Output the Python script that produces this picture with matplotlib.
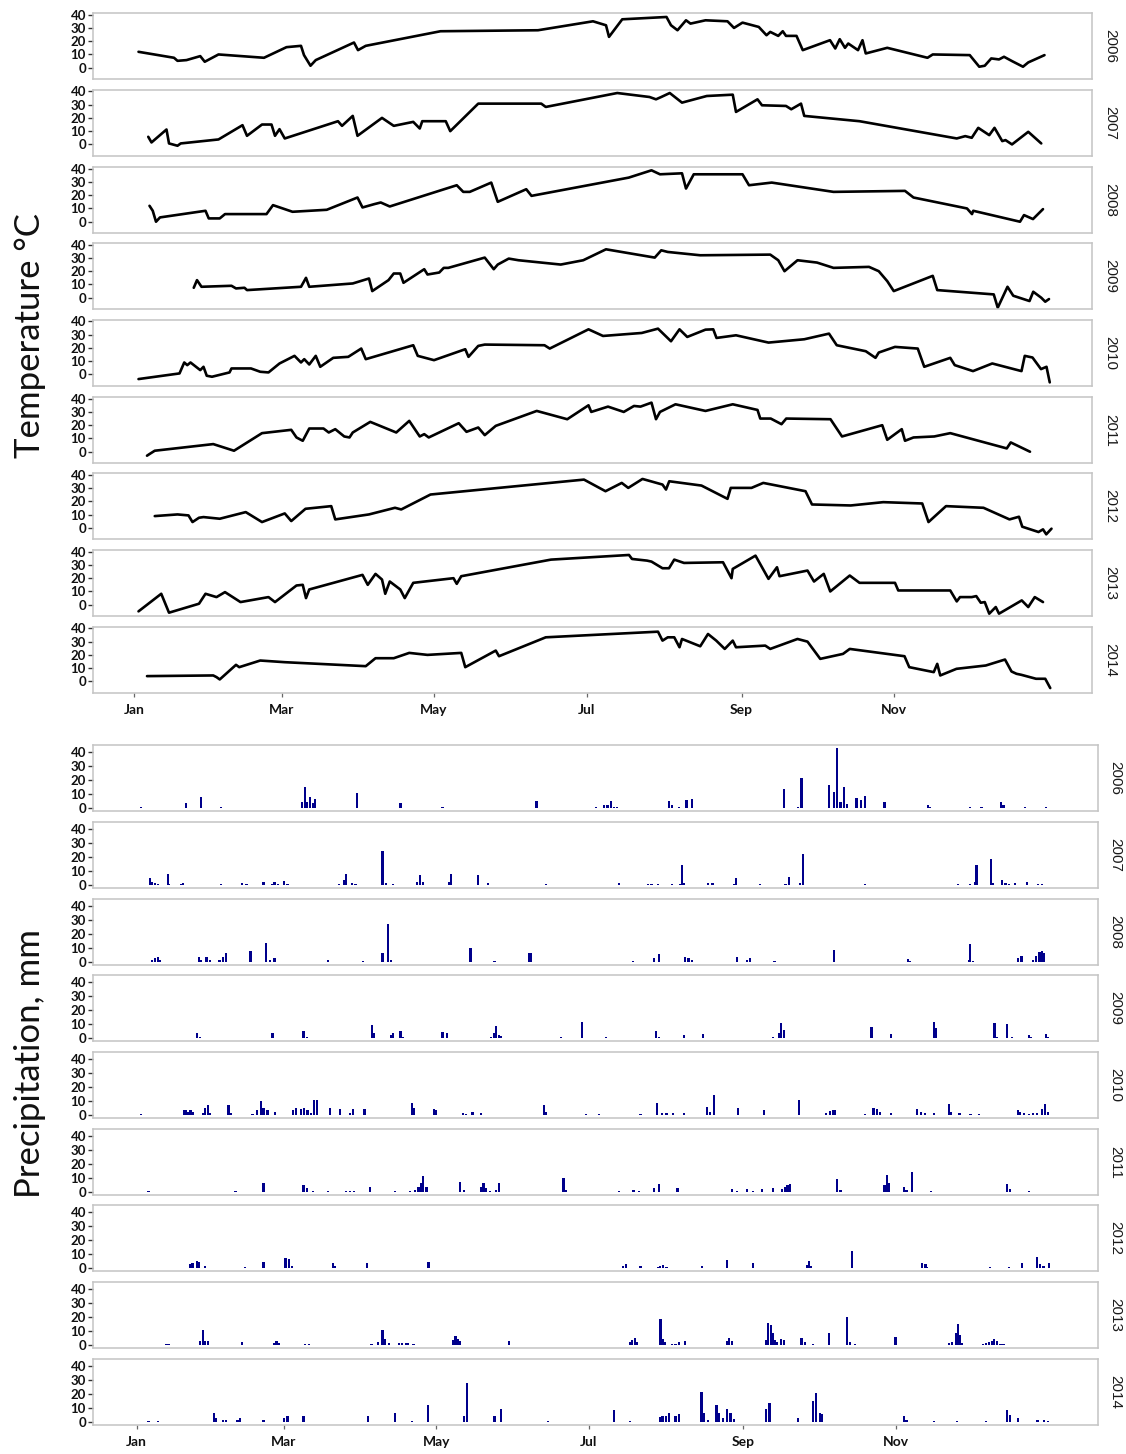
import matplotlib
matplotlib.use("Agg")
import matplotlib.pyplot as plt

# ---------------- data ----------------
years = [2006, 2007, 2008, 2009, 2010, 2011, 2012, 2013, 2014]
month_ticks = [1, 60, 121, 182, 244, 305]          # day of year
month_labels = ["Jan", "Mar", "May", "Jul", "Sep", "Nov"]
y_ticks = [0, 10, 20, 30, 40]

# temperature: (day of year, degC)
temp_2006 = [(2.8,12),(17,7.5),(18.4,5.2),(22,5.75),(27.5,8.75),(29.3,4.5),(34.8,10),(53,7.5),
 (62,15.5),(67.8,16.5),(69,9.5),(71.6,1.5),(73.7,5.75),(89,19),(90.6,13.25),(93.7,16.5),
 (123.6,27.5),(162.6,28.25),(184.6,35),(189.8,32),(191,23.25),(196.3,36.5),(214,38.25),
 (215.8,32),(218.4,28.25),(221.8,35.75),(223.6,33.25),(229.6,35.75),(238.4,35),(241,30),
 (244.4,34),(250.9,30.75),(254,24.5),(255.5,27),(258.7,24),(260.5,27.5),(261.8,24),(266,24),
 (268.5,13.25),(279.4,20.75),(281.5,14.5),(283.3,21.5),(285.4,15),(286.7,18.25),(290.6,13.25),
 (292.4,20.75),(293.7,10.75),(302.3,15),(318.4,7.5),(320.5,10),(335.3,9.5),(339.1,0.75),
 (341.3,1.5),(343.9,7),(347,6.25),(349,8.25),(352.2,5),(356.6,0.75),(358.7,4),(365.2,9.5)]
temp_2007 = [(6.7,5.75),(8,1.5),(14,11.25),(15,0.75),(18.4,-1),(19.7,0.75),(34.8,3.75),(44.4,14.5),
 (46.2,6.5),(52.2,15),(56,15),(57.4,6.5),(59.2,11.5),(61.3,4.5),(82.6,17.5),(84.2,14),(88.5,21.5),
 (90.4,6.5),(100.2,20),(104.9,14),(112.7,17),(115.3,12),(116.3,17.5),(125.7,17.5),(127.5,10),
 (138.7,30.75),(163.9,30.75),(165.7,28.25),(194.3,38.75),(207.2,35.75),(209.8,34),(211.9,35.75),
 (215.3,38.75),(220.2,31.5),(230.1,36.5),(240.5,37.5),(241.8,24.5),(250.4,34),(252.2,29.5),
 (261.8,29),(263.9,26.5),(267.8,30.75),(269.1,21.5),(291.2,17.5),(330.1,4.5),(333.5,6.25),
 (336.1,5),(338.7,12.5),(343.1,7),(345.2,12.5),(348.3,2.5),(349.6,3.25),(352.2,0),(358.7,9.5),
 (363.9,0.75)]
temp_2008 = [(7.2,12),(8.5,8.25),(9.8,0),(11.4,3.25),(29.6,8.25),(30.9,2.5),(35.3,2.5),(37.4,5.75),
 (54,5.75),(56.6,12.5),(64.4,7.5),(78.1,9),(90.4,18.25),(92.4,10.75),(97.1,13.25),(99.7,14.5),
 (103.3,11.5),(130.1,27.5),(132.7,22.5),(135.3,22.5),(143.9,29.5),(146.5,15),(157.9,24.5),
 (160,19.5),(198.9,33.25),(208,38.75),(211.4,35.75),(220.2,36.5),(221.8,25),(224.9,35.75),
 (244.4,35.75),(247,27.5),(256.1,29.5),(280.8,22.5),(309.4,23.25),(312.8,18.25),(334.2,10),
 (336.2,5.75),(336.7,8.25),(355.4,0),(357,5),(360.6,2),(364.6,9.5)]
temp_2009 = [(24.9,7.5),(26.2,13.25),(28,8.25),(40,9),(41.8,7),(45.2,7.5),(46.2,5.75),(67.8,8.25),
 (69.8,15),(71.1,8.25),(88.5,10.75),(95,14.5),(96.3,5),(102.8,13.25),(104.9,18.25),(107.5,18.25),
 (108.8,11.25),(117.1,21.5),(118.4,17.5),(123.1,19),(124.9,22.5),(126.7,22.5),(141.3,30.25),
 (144.9,21.5),(146.5,25),(150.9,29.5),(154.8,28.25),(171.7,25),(180.7,28.25),(189.8,36.5),
 (209.3,30.25),(211.9,35.75),(214.5,34.5),(227.5,32),(255.5,32.5),(258.7,28.25),(261.2,20),
 (266.4,28.25),(274.2,26.5),(280.8,22.5),(295,23.25),(298.9,20),(302.3,12.5),(304.9,5),
 (320.5,16.5),(322.3,5.75),(344.9,2.5),(346.5,-7.5),(350.4,8.25),(352.7,1.5),(359.2,-2.5),
 (360.7,4.5),(363.9,0),(365.5,-3),(367,-1)]
temp_2010 = [(2.8,-3.5),(19.2,0.75),(21.1,9),(22.3,7),(23.6,9),(27.5,3.25),(28.8,5.75),(30.1,-1),
 (32.2,-1.75),(39.2,1.5),(40,4.5),(47.8,4.5),(51.5,2),(54.8,1.5),(59.2,8.25),(65.2,14),(67.8,9),
 (69.1,11.5),(71.1,7.5),(73.7,14),(75.5,5.75),(80.7,12.5),(86.7,13.25),(91.9,19.5),(93.7,11.5),
 (112.7,22),(114.5,14),(121,10.75),(133.5,19),(134.8,13.25),(138.7,21.5),(141.3,22.5),(165.2,22),
 (167.3,19.5),(182.8,34),(188.6,29),(204.1,31.25),(210.6,34.5),(215.8,25),(219.2,34),(222.3,28.25),
 (229.6,33.75),(232.7,34),(234,27.5),(241.8,29.5),(254.8,24),(269.1,26.5),(279,30.75),(282.1,22),
 (293.7,17.5),(297.6,12.5),(298.9,16.5),(305.4,20.75),(314.5,19.5),(317.1,5.75),(327.5,12.5),
 (329.3,7),(336.6,2.5),(344.3,8.25),(356,2.5),(357.3,14),(360.4,12.75),(363.8,4),(366,5.75),
 (367.3,-6)]
temp_2011 = [(6.2,-3),(7.2,-1.75),(9.3,0.75),(32.7,5.75),(41,0.75),(52.2,14),(63.9,16.5),(66,10.75),
 (68.5,8.25),(71.1,17.5),(76.8,17.5),(78.9,14.5),(81.5,17),(85.1,11.5),(87.2,10.75),(88.5,14.5),
 (95.5,22.5),(105.9,14.5),(111.1,23.25),(115.3,11.5),(117.1,13.25),(118.9,10.75),(130.9,21.5),
 (134,15),(138.7,18.25),(141.3,12.5),(145.7,19.5),(162.1,30.75),(174.3,24.5),(182.8,35),(183.9,30),
 (190.6,34),(196.9,30),(201,34.5),(203.6,34),(208,37),(209.8,24.5),(211.4,30),(217.6,35.75),
 (229.6,30.75),(240.5,35.75),(250.4,31.5),(251.5,25),(255.7,25),(260,20.75),(261.9,25),(279.6,24.5),
 (284.2,11.5),(300.3,20),(302.3,9),(308.1,17),(309.4,8.25),(312.8,10.75),(321.1,11.5),(327.5,14),
 (350.1,2.5),(351.7,7),(359.4,0)]
temp_2012 = [(9.3,9),(18.4,10.25),(22.8,9.5),(24.4,4.5),(27,7.75),(28.8,8.25),(35.3,7),(45.7,12),
 (52.2,4.5),(61.3,11),(63.9,5.25),(69.6,14.5),(79.9,16.5),(81.5,6.5),(95,10.25),(105.4,15.25),
 (107.9,14),(119.6,25.25),(181,36.5),(189.6,27.75),(196.1,34),(198.7,30.25),(204.4,37),
 (212.4,32.75),(213.8,29),(215.1,35.25),(228,32),(238.4,22),(239.7,30.25),(248,30.25),(252.7,34),
 (269.6,27.75),(272.2,17.75),(287.7,17),(300.7,19.5),(316.3,18.5),(318.8,4.5),(325.8,16.5),
 (340.8,15.25),(351.2,6.5),(355,8.5),(356.3,1),(362.8,-3),(364.6,-1),(365.9,-4.75),(368,-0.5)]
temp_2013 = [(2.8,-5),(11.9,8.25),(15,-6),(27,0.75),(29.6,8.25),(34,5.75),(37.4,9.5),(43.6,2),
 (54.8,5.75),(57.4,2),(66,14.5),(68.5,15),(69.8,5),(71.1,11.5),(92.4,22.5),(94.5,15),(97.6,23.25),
 (100.2,19),(101.5,8.25),(103.3,17.5),(107.5,11.5),(109.3,5),(112.7,16.5),(128.8,20),(130.1,15.75),
 (131.9,21.5),(167.8,34),(199,37.5),(200.2,34.5),(206.2,33.25),(208,32.5),(212.4,27.5),(215,27.5),
 (217.1,34),(221,31.5),(236.6,32),(240,20),(240.5,27),(249.6,37),(254.8,19.5),(258.2,28.25),
 (259.2,21.5),(270.4,25.75),(273,17.5),(276.9,23.25),(279.5,10),(287.3,22),(291.2,16.5),
 (305.4,16.5),(306.7,10.75),(327.5,10.75),(330.1,2.5),(331.4,5.75),(336.1,5.75),(337.9,6.5),
 (339.7,1.5),(341.3,2),(343.1,-6.75),(345.7,-1.75),(347,-6.75),(356.1,3.25),(358.7,-1.75),
 (361.3,5.75),(364.6,2)]
temp_2014 = [(6.2,4),(32.7,4.5),(34,3.25),(35.3,1.5),(41.8,12.5),(43.1,10.75),(51.5,15.75),
 (61.3,14.5),(93.7,11.5),(97.6,17.5),(104.9,17.5),(111.1,21.5),(118.4,20),(131.9,21.5),
 (133.5,10.75),(145.7,23.25),(147,19),(165.7,33.25),(210.6,37.5),(212.4,30.75),(214.5,33.25),
 (217.1,33.25),(219.2,25.75),(220.2,32),(227.5,26.5),(230.6,35.75),(233.9,30.75),(237.3,24.5),
 (240.5,30.75),(241.8,25.75),(253.5,27),(255.5,24.5),(266.4,32),(270.4,30),(275.5,17),
 (284.6,20.75),(287.3,24.5),(309.2,19),(311.1,10.75),(320.9,7),(322.3,13.25),(323.5,4.5),
 (330,9.5),(341.7,12),(349.4,16.5),(352,7.5),(354,5.75),(355.9,5),(361.8,2),(365.5,2),(367.5,-5)]

# precipitation: (day of year, mm)
precip_2006 = [(2.6,1.2),(16.5,0.5),(17.3,0.5),(20.7,3.5),(26.9,8.2),(28.5,0.5),(29.5,0.5),(34.7,1.2),
 (52.8,0.5),(61.4,0.5),(67.3,4.7),(68.4,14.8),(69.1,4.7),(70.4,8.2),(71.7,3.5),(72.5,6.4),(89.1,11),
 (89.8,0.5),(92.5,0.5),(106.7,3.5),(123.5,1.2),(161.1,5.4),(184.9,1.2),(188.3,2.4),(189.6,2.4),
 (190.9,5.2),(192.2,1.2),(193.5,0.7),(194.8,0.5),(214.2,5.4),(215.5,2.4),(218.1,1.2),(221.2,5.9),
 (223.3,6.8),(229,0.5),(238.3,0.5),(240.1,0.5),(244,0.5),(253.1,0.5),(260.1,13.4),(266,1.2),
 (267.3,21.9),(278.2,16.5),(280.3,11.8),(281.6,43),(282.9,4.7),(284.2,15.3),(285.5,3),(289.3,7),
 (291.2,5.9),(292.7,8.7),(300.5,4.7),(317.8,2.4),(318.6,1.2),(334.7,1.2),(337.8,0.5),(339.3,1.2),
 (341.2,0.5),(342.5,0.5),(347.1,4.7),(348.2,2.4),(356.7,1.2),(365.2,1.2)]
precip_2007 = [(6.2,5.4),(7,2.4),(8.3,1.6),(9.5,1.2),(13.4,7.8),(14,0.7),(18.6,0.7),(19.4,1.6),
 (34.7,0.7),(43.2,1.6),(45,1.2),(51.8,2.4),(55.4,1.2),(56.2,2.4),(57.5,0.7),(60.1,2.8),(61.4,0.7),
 (82.1,0.7),(83.9,3.5),(84.7,8.2),(87.3,1.6),(88.6,1.2),(99.4,24.2),(100.7,1.6),(103.6,0.7),
 (113.2,2.4),(114.5,7),(115.8,2.4),(126.1,2.4),(126.9,7.8),(137.8,7),(141.7,1.6),(165,0.7),
 (194.3,1.6),(205.7,1.2),(207.2,1.2),(209.8,1.2),(215.5,0.7),(218.6,1.2),(219.4,14.6),(220.2,1.6),
 (229.8,1.6),(231.6,1.6),(240.1,1.2),(241,5.2),(250.5,0.7),(260.8,0.7),(262.1,5.9),(266.8,1.6),
 (267.8,22.4),(292.7,0.7),(330,0.7),(334.7,0.7),(336.8,2.4),(337.3,14.1),(343,18.8),(343.8,1.6),
 (347.7,3.5),(349,1.6),(350.3,1.2),(352.9,1.6),(357.6,2.4),(362,1.2),(363.7,1.2)]
precip_2008 = [(7,1.6),(8.3,2.8),(9.5,4),(10.3,1.6),(13.4,0.5),(25.9,3.5),(26.9,1.6),(29,3.5),
 (30.3,1.6),(34.2,1.6),(35.5,4),(36.8,6.4),(46.6,8.2),(52.8,13.4),(54.4,1.6),(56.2,2.8),(64,0.5),
 (77.7,1.6),(91.7,1.2),(92.5,0.5),(99.4,6.4),(101.5,27.5),(102.8,1.6),(130,0.5),(131.3,0.5),
 (134.7,9.9),(144.3,1.2),(158,6.4),(159,6.4),(199.9,1.2),(208.3,2.8),(210.3,5.9),(220.7,4),
 (222,2.8),(223.3,1.6),(241.4,3.5),(245.3,1.6),(246.6,2.8),(256.4,1.2),(280.3,8.7),(309.9,2.1),
 (310.7,1.2),(334.2,1.6),(334.7,12.9),(336,1.2),(354.1,2.8),(355.4,4.5),(360.1,1.6),(361.1,4.5),
 (362.6,7.5),(363.7,8.2),(364.5,6.4)]
precip_2009 = [(25.1,3.5),(26.4,1.2),(40.6,0.5),(41.9,0.5),(45.8,0.5),(55.4,3.5),(67.8,5.4),(69.1,0.7),
 (70.9,0.5),(87.3,0.5),(95.1,9.4),(95.9,3.5),(102.8,2.4),(103.6,4),(106.7,5.4),(107.5,1.2),
 (117.1,0.5),(123.5,4.7),(125.4,3.5),(140.9,0.5),(143,1.2),(144.3,4),(145,8.7),(146.1,2.4),
 (146.9,1.6),(150.3,0.5),(154.7,0.5),(171,0.7),(179.2,11.8),(189.1,0.7),(194.3,0.5),(209,5.4),
 (210.3,1.2),(220.2,2.4),(227.9,3.1),(255.7,0.7),(258.3,4),(259,10.6),(260.1,5.9),(265.2,0.5),
 (275.1,0.5),(278.9,0.5),(295.3,7.8),(298.9,0.5),(303.1,3.1),(320.4,11.8),(321.2,7),(344.5,10.6),
 (345.6,1.2),(349.7,10.1),(351.5,0.7),(358.5,2.4),(359.3,1.2),(365.3,3.1),(366,1.2)]
precip_2010 = [(2.6,0.7),(19.9,3.5),(20.7,4),(21.7,2.4),(22.5,4),(23.3,2.4),(27.7,1.6),(28.5,5.4),
 (29.5,7),(30.3,1.6),(37.8,7),(38.9,1.6),(47.4,1.2),(49.2,4),(50.8,10.1),(51.8,5.4),(53.4,3.5),
 (56.5,2.4),(63.7,3.5),(64.8,5.4),(66.8,4.7),(68.1,5.4),(69.4,3.5),(70.7,1.6),(72,10.6),(73.3,10.6),
 (78.5,5.4),(82.4,4.7),(86.3,1.6),(87.6,4.7),(92.2,4.7),(111.4,8.7),(112.2,5.4),(120,4.7),(120.7,4),
 (131.6,1.6),(132.9,1.2),(135.5,2.4),(138.9,1.6),(164,7.5),(164.8,2.4),(181,0.7),(186.2,0.7),
 (202.8,0.7),(209.3,8.7),(211.4,1.6),(213.2,1.6),(215.8,1.6),(220.2,1.6),(229.5,5.9),(230.6,2.4),
 (232.1,14.1),(241.7,5.4),(252.1,3.5),(266.3,11.1),(277.2,1.6),(278.7,3.1),(279.8,3.5),(280.6,4),
 (292.8,0.7),(296.1,5.4),(297.4,4.7),(298.7,2.4),(303.1,1.6),(313.4,4.7),(315,2.4),(316.8,1.6),
 (320.2,1.6),(326.4,8.2),(327.2,2.4),(330.5,1.6),(334.9,1.2),(338.3,0.7),(341.4,0.3),(342.7,0.3),
 (353.9,3.5),(354.9,2.4),(356.5,1.6),(358.3,1.2),(360.1,1.6),(361.7,1.6),(363.7,4.7),(364.8,7.8),
 (366,2.4)]
precip_2011 = [(5.7,1.2),(7,0.5),(9.5,0.5),(32.9,0.5),(40.6,1.2),(51.8,6.4),(64.7,0.5),(67.8,5.2),
 (69.1,2.8),(71.7,1.2),(77.7,1.2),(80.3,0.5),(82.1,0.5),(84.7,1.2),(86.5,1.2),(88.1,1.2),(94.3,4),
 (104.6,1.2),(108.8,0.5),(110.5,1.2),(112.4,1.6),(113.9,3.5),(115,6.4),(115.8,11.5),(117.1,4),
 (130.5,7.5),(132.1,1.6),(139.1,4),(139.9,6.4),(140.9,2.8),(142.5,1.2),(145,1.6),(146.1,6.4),
 (161.1,0.5),(171.9,9.9),(172.8,1.6),(182.3,0.5),(192.2,0.5),(194.3,1.2),(196.9,0.5),(200,1.6),
 (202.1,1.2),(208.3,2.8),(210.3,5.9),(217.6,2.8),(218.1,0.5),(228,0.5),(239.3,2.1),(241.4,1.2),
 (245.3,2.1),(247.9,1.2),(251.3,2.1),(252.3,0.5),(255.7,2.8),(259.5,2.1),(260.8,4),(261.6,5.2),
 (262.7,5.9),(280.3,0.5),(281.6,9.2),(282.9,1.6),(300.5,5.2),(301.6,12.2),(302.3,6.4),(308.3,4),
 (309.3,1.6),(311.4,14.6),(319.1,1.2),(328.2,0.5),(349.7,5.9),(350.7,2.1),(358.5,1.2)]
precip_2012 = [(8.3,0.5),(17.3,0.5),(22.5,2.8),(23.3,3.5),(24.3,0.5),(25.1,5.2),(25.9,4.5),(26.9,0.5),
 (28.5,1.6),(34.7,0.5),(44.5,1.2),(45.8,0.5),(51.8,4.5),(60.6,7.5),(62.1,6.4),(63.2,1.6),(68.4,0.5),
 (79.5,4),(80.3,1.6),(93.3,4),(103.6,0.5),(107,0.5),(117.9,4.5),(180.3,0.5),(188.1,0.5),(195.9,1.6),
 (196.9,2.8),(202.8,1.6),(209.8,1.2),(210.6,1.6),(211.9,2.1),(213.2,1.2),(214.5,0.5),(227.5,1.6),
 (237.3,5.9),(238.3,0.5),(247.7,3.5),(251.3,0.5),(269.4,2.1),(270.2,5.2),(271,1.6),(287.6,12.2),
 (299.5,0.5),(315.6,4),(316.9,2.8),(317.6,1.2),(324.6,0.5),(340.2,0.5),(342.7,1.2),(350.5,1.2),
 (352.3,0.5),(355.7,3.5),(361.7,8.2),(362.7,2.8),(364.2,1.6),(366.5,4)]
precip_2013 = [(2.6,0.5),(11.4,0.5),(12.9,1.2),(14,1.2),(26.4,2.8),(27.7,10.6),(28.5,2.8),(29.5,2.8),
 (34.7,0.5),(37.3,0.5),(43.2,2.1),(56.2,1.6),(57,3.3),(58,1.6),(64,0.5),(68.4,1.2),(69.9,1.2),
 (93.2,0.5),(95,1.2),(97.6,2.1),(99.4,10.6),(100.2,4.5),(102,1.6),(106.2,1.6),(107.2,1.6),
 (108.8,1.6),(109.8,1.6),(111.9,1.2),(127.9,4),(128.7,6.8),(129.5,4.5),(130.5,2.8),(139.9,0.5),
 (150.2,2.8),(168.4,0.5),(194.3,0.5),(198.7,2.1),(199.4,4),(200.5,5.2),(201.3,2.1),(210.8,18.6),
 (211.6,4.5),(212.4,2.1),(215.5,1.2),(216.8,1.2),(218.1,2.1),(220.7,2.8),(225.9,0.5),(237.5,2.8),
 (238.3,5.2),(239.3,2.8),(249.2,0.5),(253.1,3.5),(253.9,16.2),(254.9,14.6),(255.7,8.7),(256.4,4),
 (257.5,2.1),(259,4.5),(260.1,4),(267.3,5.2),(268.6,2.1),(272,1.2),(278.2,8.7),(279,0.5),
 (285.5,20),(286.8,2.1),(288.6,1.2),(304.9,5.9),(326.4,1.6),(327.4,2.1),(329,8.7),(330,15.3),
 (330.8,7.5),(331.5,1.6),(334.6,0.5),(339.8,1.2),(341,1.6),(342.3,2.1),(343.6,2.8),(344.4,4.5),
 (345.4,2.8),(347,1.2),(348.2,1.2),(355.4,0.5),(357.5,0.5),(359.3,0.5),(361.8,0.5)]
precip_2014 = [(5.7,0.7),(9.5,0.7),(32.1,6.6),(32.9,3.1),(35.5,1.9),(36.8,1.4),(41.4,1.9),(42.5,3.1),
 (51.8,1.4),(60.1,3.1),(61.4,4.7),(67.8,4.2),(93.7,4.7),(104.6,6.6),(111.4,0.7),(117.6,12.5),
 (132.1,4.2),(133.2,28.2),(144.3,4.7),(146.9,9.4),(165.8,0.7),(192.2,8.9),(198.7,0.7),(210.8,3.8),
 (211.6,4.7),(212.9,4.2),(214.2,6.6),(216.8,4.2),(218.1,6.1),(227.2,21.2),(228,6.6),(229.8,1.9),
 (233.2,12.5),(234.2,6.6),(235.8,3.1),(237.5,9.4),(238.8,6.6),(240.1,2.4),(253.1,9.4),(254.4,13.6),
 (266,3.1),(272,14.8),(273,20.7),(274.6,6.6),(275.6,6.1),(308.3,4.2),(309.3,1.9),(320.4,0.7),
 (329.5,0.7),(341.2,0.7),(349.7,8.9),(350.7,5.4),(354.1,3.1),(361.8,1.4),(364.4,1.4),(366,0.7)]

temps = {2006: temp_2006, 2007: temp_2007, 2008: temp_2008, 2009: temp_2009, 2010: temp_2010,
         2011: temp_2011, 2012: temp_2012, 2013: temp_2013, 2014: temp_2014}
precips = {2006: precip_2006, 2007: precip_2007, 2008: precip_2008, 2009: precip_2009,
           2010: precip_2010, 2011: precip_2011, 2012: precip_2012, 2013: precip_2013,
           2014: precip_2014}

# ---------------- layout ----------------
W, H = 1126, 1454
fig = plt.figure(figsize=(W / 100, H / 100), dpi=100)
fig.patch.set_facecolor("white")

temp_tops = [13, 89.7, 167, 243, 319.7, 397, 473.3, 550, 626.7]
precip_tops = [745, 822, 899, 975, 1052, 1129, 1205, 1282, 1359]
PH = 66

tick_font = "Lato"
strip_font = "Liberation Sans"


def add_ax(left, top, width, height):
    return fig.add_axes([left / W, 1 - (top + height) / H, width / W, height / H])


def style(ax, year, bottom, strip_dx):
    for s in ax.spines.values():
        s.set_color("#c4c4c4")
        s.set_linewidth(1.1)
    ax.set_yticks(y_ticks)
    ax.set_xticks(month_ticks)
    ax.tick_params(axis="y", direction="out", length=3.5, width=1.0, color="#333333",
                   labelsize=9.5, pad=1.5, labelcolor="#111111")
    for lab in ax.get_yticklabels():
        lab.set_fontfamily(tick_font)
        lab.set_fontweight("bold")
    if bottom:
        ax.set_xticklabels(month_labels)
        ax.tick_params(axis="x", direction="out", length=3, width=0.9, color="#666666",
                       labelsize=10, pad=5, labelcolor="#111111")
        for lab in ax.get_xticklabels():
            lab.set_fontfamily(tick_font)
            lab.set_fontweight("bold")
    else:
        ax.tick_params(axis="x", length=0, labelbottom=False)
    ax.text(1 + strip_dx, 0.5, str(year), transform=ax.transAxes, rotation=270,
            ha="center", va="center", fontsize=11, family=strip_font, color="#1a1a1a")


# temperature panels
for i, yr in enumerate(years):
    ax = add_ax(93, temp_tops[i], 999, PH)
    d = [p[0] for p in temps[yr]]
    v = [p[1] for p in temps[yr]]
    ax.plot(d, v, color="black", lw=1.9, solid_joinstyle="round", solid_capstyle="round")
    ax.set_xlim(-15.4, 384.2)
    ax.set_ylim(-8.5, 41.25)
    style(ax, yr, i == len(years) - 1, 18 / 999)

# precipitation panels
for i, yr in enumerate(years):
    ax = add_ax(93, precip_tops[i], 1005, PH)
    d = [p[0] for p in precips[yr]]
    v = [p[1] for p in precips[yr]]
    ax.bar(d, v, width=0.9, color="#00008B", linewidth=0)
    ax.set_xlim(-16.5, 386)
    ax.set_ylim(-1.9, 45)
    style(ax, yr, i == len(years) - 1, 17 / 1005)

fig.text(30 / W, 1 - 335 / H, "Temperature °C", rotation=90, ha="center", va="center",
         fontsize=25, family="Lato", color="#111111")
fig.text(30 / W, 1 - 1064 / H, "Precipitation, mm", rotation=90, ha="center", va="center",
         fontsize=25, family="Lato", color="#111111")

fig.savefig("out.png", dpi=100, facecolor="white")
